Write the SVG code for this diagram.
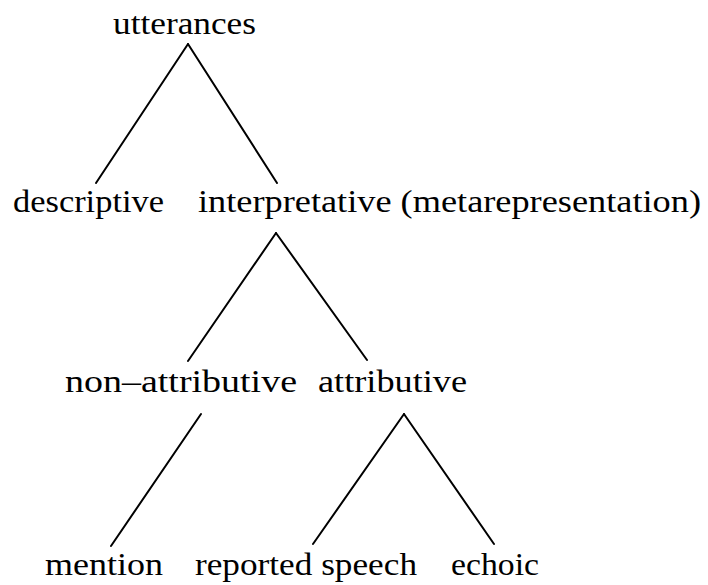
<svg xmlns="http://www.w3.org/2000/svg" width="708" height="585" viewBox="0 0 708 585">
<style>
text{font-family:"Liberation Serif","Times New Roman",serif;font-size:32px;fill:#000}
.e line{stroke:#000;stroke-width:2;stroke-linecap:round}
</style>
<rect width="708" height="585" fill="#fff"/>
<g class="e" id="connectors">
<line x1="188" y1="44" x2="96" y2="183"/>
<line x1="188" y1="44" x2="277" y2="183"/>
<line x1="276" y1="233" x2="188" y2="361"/>
<line x1="276" y1="233" x2="367" y2="360"/>
<line x1="201" y1="414" x2="111" y2="546"/>
<line x1="404" y1="414" x2="313" y2="544"/>
<line x1="404" y1="414" x2="494" y2="544"/>
</g>
<g id="utterances"><text x="113" y="34" textLength="143" lengthAdjust="spacingAndGlyphs">utterances</text></g>
<g id="descriptive"><text x="13" y="212" textLength="151" lengthAdjust="spacingAndGlyphs">descriptive</text></g>
<g id="interpretative"><text x="198" y="212" textLength="503" lengthAdjust="spacingAndGlyphs">interpretative (metarepresentation)</text></g>
<g id="non-attributive"><text x="65" y="392" textLength="232" lengthAdjust="spacingAndGlyphs">non–attributive</text></g>
<g id="attributive"><text x="318" y="392" textLength="149" lengthAdjust="spacingAndGlyphs">attributive</text></g>
<g id="mention"><text x="45" y="575" textLength="118" lengthAdjust="spacingAndGlyphs">mention</text></g>
<g id="reported-speech"><text x="195" y="575" textLength="222" lengthAdjust="spacingAndGlyphs">reported speech</text></g>
<g id="echoic"><text x="451" y="575" textLength="88" lengthAdjust="spacingAndGlyphs">echoic</text></g>
</svg>
